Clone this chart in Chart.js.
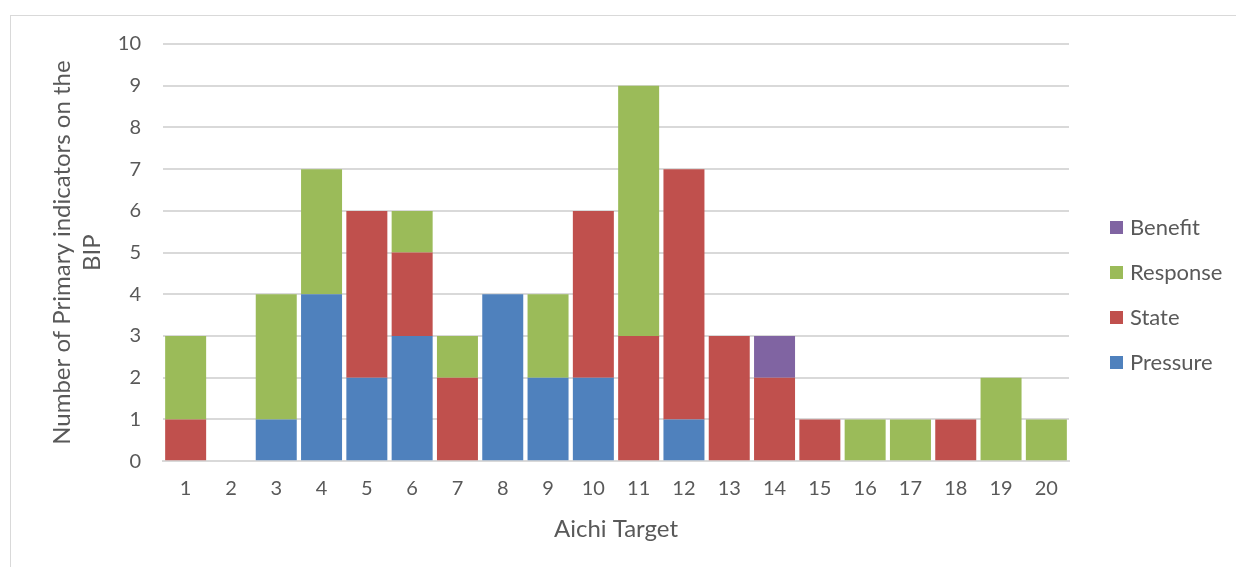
<!DOCTYPE html>
<html>
<head>
<meta charset="utf-8">
<script src="https://cdn.jsdelivr.net/npm/chart.js@4.4.0/dist/chart.umd.min.js"></script>
<style>
  html, body { margin: 0; padding: 0; background: #fff; }
  #wrap { position: relative; width: 1236px; height: 567px; overflow: hidden; }
  #frame { position: absolute; left: 10px; top: 15px; width: 1240px; height: 600px; border: 1px solid #d9d9d9; box-sizing: border-box; }
  canvas { position: absolute; left: 0; top: 0; }
</style>
</head>
<body>
<div id="wrap">
  <div id="frame"></div>
  <canvas id="chart" width="1236" height="567"></canvas>
</div>
<script>
const targets = ['1','2','3','4','5','6','7','8','9','10','11','12','13','14','15','16','17','18','19','20'];
const pressure = [0,0,1,4,2,3,0,4,2,2,0,1,0,0,0,0,0,0,0,0];
const state    = [1,0,0,0,4,2,2,0,0,4,3,6,3,2,1,0,0,1,0,0];
const response = [2,0,3,3,0,1,1,0,2,0,6,0,0,0,0,1,1,0,2,1];
const benefit  = [0,0,0,0,0,0,0,0,0,0,0,0,0,1,0,0,0,0,0,0];
const yTicks = [0,1,2,3,4,5,6,7,8,9,10];

const textColor = '#595959';
const fontFamily = 'Lato, "Open Sans", sans-serif';

// legend drawn by hand so it sits where Excel put it
const sideLegend = {
    id: 'sideLegend',
    afterDraw(chart) {
        const ctx = chart.ctx;
        const sets = chart.data.datasets.slice().reverse();
        ctx.save();
        ctx.font = '22px ' + fontFamily;
        ctx.textBaseline = 'middle';
        sets.forEach((ds, i) => {
            const y = 227 + i * 45;
            ctx.fillStyle = ds.backgroundColor;
            ctx.fillRect(1110, y - 6, 13, 13);
            ctx.fillStyle = textColor;
            ctx.fillText(ds.label, 1130, y + 1);
        });
        ctx.restore();
    }
};

const ctx = document.getElementById('chart').getContext('2d');
new Chart(ctx, {
    type: 'bar',
    data: {
        labels: targets,
        datasets: [
            { label: 'Pressure', data: pressure, backgroundColor: '#4f81bd' },
            { label: 'State', data: state, backgroundColor: '#c0504d' },
            { label: 'Response', data: response, backgroundColor: '#9bbb59' },
            { label: 'Benefit', data: benefit, backgroundColor: '#8064a2' }
        ]
    },
    options: {
        responsive: false,
        animation: false,
        barPercentage: 0.905,
        categoryPercentage: 1,
        layout: { padding: { left: 47, right: 167, top: 44, bottom: 23 } },
        plugins: {
            legend: { display: false },
            tooltip: { enabled: false }
        },
        scales: {
            x: {
                stacked: true,
                grid: { display: false, drawTicks: false },
                border: { color: '#d9d9d9', width: 2 },
                ticks: { color: textColor, font: { family: fontFamily, size: 20 }, padding: 15 },
                title: {
                    display: true, text: 'Aichi Target', color: textColor,
                    font: { family: fontFamily, size: 24 }, padding: { top: 0, bottom: 0 }
                }
            },
            y: {
                stacked: true,
                min: 0, max: 10,
                afterBuildTicks(axis) { axis.ticks = yTicks.map(v => ({ value: v })); },
                afterFit(axis) { axis.width = 116; },
                grid: { color: '#d9d9d9', lineWidth: 2, drawTicks: false },
                border: { display: false },
                ticks: { color: textColor, font: { family: fontFamily, size: 20 }, padding: 22 },
                title: {
                    display: true,
                    text: ['Number of Primary indicators on the', 'BIP'],
                    color: textColor,
                    font: { family: fontFamily, size: 24, lineHeight: 1.25 },
                    padding: { top: 0, bottom: 0 }
                }
            }
        }
    },
    plugins: [sideLegend]
});
</script>
</body>
</html>
